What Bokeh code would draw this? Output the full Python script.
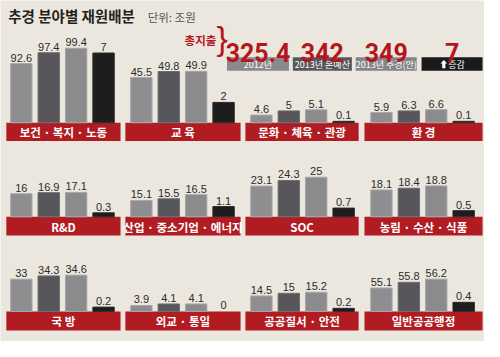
from bokeh.plotting import figure
from bokeh.models import Range1d, ColumnDataSource
from bokeh.core.properties import value
from bokeh.embed import file_html
from bokeh.resources import INLINE

# ---------------- data ----------------
sectors = ["보건 · 복지 · 노동", "교 육", "문화 · 체육 · 관광", "환 경",
           "R&D", "산업 · 중소기업 · 에너지", "SOC", "농림 · 수산 · 식품",
           "국 방", "외교 · 통일", "공공질서 · 안전", "일반공공행정"]
budget_2012 = [92.6, 45.5, 4.6, 5.9, 16, 15.1, 23.1, 18.1, 33, 3.9, 14.5, 55.1]
budget_2013 = [97.4, 49.8, 5, 6.3, 16.9, 15.5, 24.3, 18.4, 34.3, 4.1, 15, 55.8]
supp_2013 = [99.4, 49.9, 5.1, 6.6, 17.1, 16.5, 25, 18.8, 34.6, 4.1, 15.2, 56.2]
change = [7, 2, 0.1, 0.1, 0.3, 1.1, 0.7, 0.5, 0.2, 0, 0.2, 0.4]
series = ["2012년", "2013년 본예산", "2013년 추경(안)", "⬆증감"]
totals = [325.4, 342, 349, 7]
title = "추경 분야별 재원배분"
unit = "단위: 조원"
total_label = "총지출"

# ---------------- per-panel scales (truncated axes, like the original) ----------------
grey_base = [66.2, 13.3, 3.87, 3.41, -2.6, 11.1, 16.53, 13.4, 20.0, 3.125, 11.55, 52.2]
grey_scale = [2.35, 1.47, 11.0, 4.3, 1.3, 4.3, 4.9, 6.0, 2.6, 8.0, 5.5, 8.45]
change_scale = [10.43, 10.65, 15, 15, 14, 9.8, 13.1, 13, 22.5, 20, 16, 23.8]

# ---------------- style / layout ----------------
W, H = 484, 341
RW, RH = 500, 357          # design units (page coordinates of the layout)
BG = "#ece7de"
RED = "#b11c23"
NUMRED = "#b5151d"
BAR_COLORS = ["#8e8e90", "#57575b", "#8b8b8e", "#1d1d1d"]
BAR_LINES = ["#a9a9aa", "#6c6c70", "#a6a6a8", "#2a2a2a"]
KR = "Noto Sans CJK KR"
NUM = "Roboto"
row_base = [128, 226.5, 325.5]
row_bottom = [147, 246, 345.5]
col_band = [(6, 124), (129, 248), (253, 370), (376, 498)]
GAP = 0.38      # extra slot gap between panel columns
PAD = 0.26      # outer padding in bar slots
n_series = len(series)

p = figure(width=W, height=H,
           x_range=Range1d(-PAD, 4 * n_series + 3 * GAP + PAD),
           y_range=Range1d(RH, 0),
           output_backend="svg", toolbar_location=None,
           x_axis_location=None, y_axis_location=None,
           min_border=0, background_fill_color=BG, border_fill_color=BG,
           outline_line_color=None)
p.grid.visible = False

extra_y = {}
for i in range(12):
    r = i // 4
    yb = row_base[r]
    b, k, kb = grey_base[i], grey_scale[i], change_scale[i]
    extra_y[f"g{i}"] = Range1d(b - (RH - yb) / k, b + yb / k)
    extra_y[f"d{i}"] = Range1d(0 - (RH - yb) / kb, 0 + yb / kb)
p.extra_y_ranges = extra_y
p.extra_x_ranges = {"px": Range1d(0, RW)}

def fmt(v):
    return f"{v:g}"

def slot(c, j):
    return c * (n_series + GAP) + j + 0.5

for i in range(12):
    r, c = divmod(i, 4)
    x0, x1 = col_band[c]
    p.quad(left=[x0], right=[x1], top=[row_base[r]], bottom=[row_bottom[r]],
           x_range_name="px", fill_color=RED, line_color=None)
    p.text(x=[(x0 + x1) / 2], y=[(row_base[r] + row_bottom[r]) / 2 + 0.5],
           text=[sectors[i]], x_range_name="px",
           text_align="center", text_baseline="middle",
           text_font=value(KR), text_font_style="bold", text_font_size="11.5px",
           text_color="white")

    vals = [budget_2012[i], budget_2013[i], supp_2013[i]]
    src = ColumnDataSource(dict(
        x=[slot(c, j) for j in range(3)],
        top=vals,
        color=BAR_COLORS[:3],
        line=BAR_LINES[:3],
        label=[fmt(v) for v in vals],
    ))
    p.vbar(x="x", top="top", bottom=grey_base[i], width=0.78, source=src,
           fill_color="color", line_color="line", line_width=1,
           y_range_name=f"g{i}")
    p.text(x="x", y="top", text="label", source=src, y_range_name=f"g{i}",
           text_align="center", text_baseline="bottom", y_offset=-2,
           text_font=value("Liberation Sans"), text_font_size="11px",
           text_color="#2b2b2b")
    dsrc = ColumnDataSource(dict(x=[slot(c, 3)], top=[change[i]],
                                 label=[fmt(change[i])]))
    if change[i] > 0:
        p.vbar(x="x", top="top", bottom=0, width=0.78, source=dsrc,
               fill_color=BAR_COLORS[3], line_color=BAR_LINES[3], line_width=1,
               y_range_name=f"d{i}")
    p.text(x="x", y="top", text="label", source=dsrc, y_range_name=f"d{i}",
           text_align="center", text_baseline="bottom", y_offset=-2,
           text_font=value("Liberation Sans"), text_font_size="11px",
           text_color="#2b2b2b")

# ---------------- header ----------------
p.text(x=[8], y=[16], text=[title], x_range_name="px", text_baseline="middle",
       text_font=value(KR), text_font_style="bold", text_font_size="14.5px",
       text_color="#231f20")
p.text(x=[152], y=[17], text=[unit], x_range_name="px", text_baseline="middle",
       text_font=value(KR), text_font_size="11.5px", text_color="#555555")
p.text(x=[223], y=[41.5], text=[total_label], x_range_name="px",
       text_align="right", text_baseline="middle",
       text_font=value(KR), text_font_style="bold", text_font_size="11.5px",
       text_color=NUMRED)
p.text(x=[229], y=[39], text=["}"], x_range_name="px",
       text_align="center", text_baseline="middle",
       text_font=value("Liberation Sans"), text_font_size="34px",
       text_color=NUMRED)

box_x = [(234, 298), (302, 363), (367, 430), (435, 498)]
box_colors = ["#8a8a8c", "#58585b", "#858588", "#1a1a1a"]
centers = [(a + b) / 2 for a, b in box_x]
p.quad(left=[a for a, b in box_x], right=[b for a, b in box_x],
       top=[59.5] * 4, bottom=[73.5] * 4, x_range_name="px",
       fill_color=box_colors, line_color=None)
p.text(x=centers, y=[66.8] * 4, text=series, x_range_name="px",
       text_align="center", text_baseline="middle",
       text_font=value(KR), text_font_size="9px", text_color="white")
p.text(x=centers, y=[54.5] * 4, text=[fmt(t) for t in totals], x_range_name="px",
       text_align="center", text_baseline="alphabetic",
       text_font=value(NUM), text_font_style="bold", text_font_size="25px",
       text_color=NUMRED)

open("out.html", "w").write(file_html(p, INLINE))
